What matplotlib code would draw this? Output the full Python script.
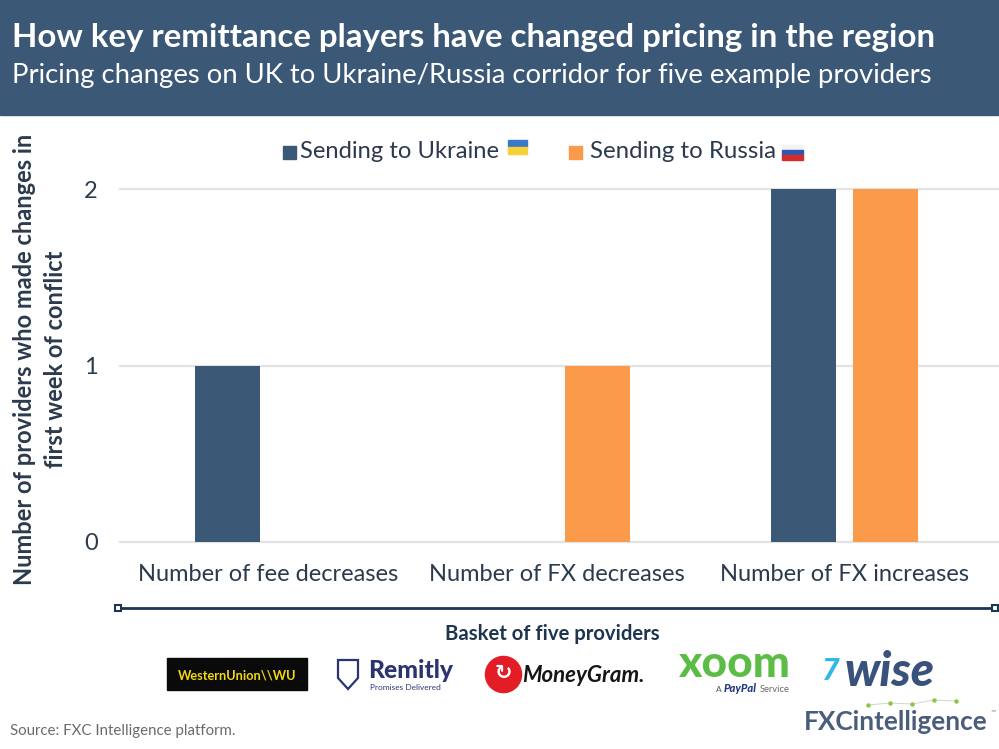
import matplotlib
matplotlib.use('Agg')
import matplotlib.pyplot as plt
from matplotlib.patches import Rectangle, Polygon
from matplotlib.lines import Line2D

# ---------------- data ----------------
categories = ["Number of fee decreases", "Number of FX decreases", "Number of FX increases"]
ukraine = [1, 0, 2]
russia = [0, 1, 2]
series_names = ["Sending to Ukraine", "Sending to Russia"]
yticks = [0, 1, 2]
title = "How key remittance players have changed pricing in the region"
subtitle = "Pricing changes on UK to Ukraine/Russia corridor for five example providers"
ylabel = "Number of providers who made changes in\nfirst week of conflict"
xlabel = "Basket of five providers"
source = "Source: FXC Intelligence platform."

# ---------------- style ----------------
W, H = 999, 749
NAVY = '#3B5877'
ORANGE = '#FA9A4A'
TXT = '#2B3A4C'
DARK = '#1E3550'
plt.rcParams['font.family'] = ['Lato', 'DejaVu Sans']

fig = plt.figure(figsize=(W / 100, H / 100), dpi=100)
renderer = fig.canvas.get_renderer()


def fx(x):
    return x / W


def fy(y):
    return 1 - y / H


def fit(t, width, vertical=False):
    for _ in range(2):
        bb = t.get_window_extent(renderer=renderer)
        cur = bb.height if vertical else bb.width
        t.set_fontsize(t.get_fontsize() * width / cur)
    return t


# header band
fig.patches.append(Rectangle((0, fy(115)), 1, 115 / H, transform=fig.transFigure,
                             color=NAVY, zorder=0))
t = fig.text(fx(12), fy(37), title, color='white', weight='bold', va='center', size=24)
fit(t, 923)
t = fig.text(fx(12), fy(75), subtitle, color='white', va='center', size=20)
fit(t, 918)

# ---------------- axes ----------------
ax = fig.add_axes([fx(120), fy(542), fx(999) - fx(120), (542 - 189) / H])
x = list(range(len(categories)))
bw = 0.226
off = 0.142
ax.bar([i - off for i in x], ukraine, bw, color=NAVY, zorder=3)
ax.bar([i + off for i in x], russia, bw, color=ORANGE, zorder=3)
ax.set_xlim(-0.514, 2.535)
ax.set_ylim(0, 2)
ax.set_yticks(yticks)
ax.set_yticklabels([str(v) for v in yticks])
ax.set_xticks(x)
ax.set_xticklabels(categories)
ax.yaxis.grid(True, color='#E3E3E3', lw=1.6)
for gl in ax.get_ygridlines():
    gl.set_clip_on(False)
ax.set_axisbelow(True)
for s in ax.spines.values():
    s.set_visible(False)
ax.tick_params(axis='y', length=0, pad=16, labelsize=17, labelcolor=TXT)
ax.tick_params(axis='x', length=0, pad=16, labelsize=17, labelcolor=TXT)
# fit category label size
fig.canvas.draw()
lab0 = ax.get_xticklabels()[0]
bb = lab0.get_window_extent(renderer=renderer)
cs = 17 * 261 / bb.width
ax.tick_params(axis='x', labelsize=cs)
ax.tick_params(axis='y', labelsize=cs)

# y label
t = fig.text(fx(40), fy(359), ylabel, rotation=90, ha='center', va='center',
             multialignment='center', weight='bold', color=TXT, size=16, linespacing=1.4)
fit(t, 448, vertical=True)

# legend (manual)
fig.patches.append(Rectangle((fx(283), fy(159)), 13 / W, 13 / H, transform=fig.transFigure,
                             color=NAVY))
t = fig.text(fx(300), fy(152), series_names[0], va='center', color=TXT, size=18)
fit(t, 200)
fig.patches.append(Rectangle((fx(569), fy(159)), 13 / W, 13 / H, transform=fig.transFigure,
                             color=ORANGE))
t = fig.text(fx(590), fy(152), series_names[1], va='center', color=TXT, size=18)
fit(t, 186)
# flags
fig.patches.append(Rectangle((fx(508), fy(147)), 19 / W, 7 / H, transform=fig.transFigure,
                             color='#3A78C9'))
fig.patches.append(Rectangle((fx(508), fy(154)), 19 / W, 7 / H, transform=fig.transFigure,
                             color='#F7D038'))
for k, c in enumerate(['#F4F4F4', '#2F56B0', '#D52B2B']):
    fig.patches.append(Rectangle((fx(782), fy(145 + 5 * (k + 1))), 21 / W, 5 / H,
                                 transform=fig.transFigure, color=c))

# bracket
fig.lines.append(Line2D([fx(118), fx(995)], [fy(608), fy(608)], transform=fig.transFigure,
                        color=DARK, lw=2, marker='s', ms=5, mfc='white', mec=DARK, mew=1.5))
t = fig.text(fx(552), fy(634), xlabel, ha='center', va='center', weight='bold', color=DARK,
             size=15)
fit(t, 215)

# ---------------- logos ----------------
# Western Union
fig.patches.append(Rectangle((fx(167), fy(690)), 140 / W, 32 / H, transform=fig.transFigure,
                             color='#0A0A0A'))
t = fig.text(fx(237), fy(675), "WesternUnion\\\\WU", ha='center', va='center',
             color='#F2D80C', weight='bold', size=10)
fit(t, 118)
# Remitly
fig.patches.append(Polygon([(fx(338), fy(660)), (fx(358), fy(660)), (fx(358), fy(678)),
                            (fx(348), fy(689)), (fx(338), fy(678))], closed=True,
                           transform=fig.transFigure, fill=False, ec='#2C3470', lw=1.6))
t = fig.text(fx(368), fy(670), "Remitly", va='center', color='#2C3470', weight='black',
             size=18)
fit(t, 85)
t = fig.text(fx(405), fy(688), "Promises Delivered", ha='center', va='center',
             color='#2C3470', size=6)
fit(t, 70)
# MoneyGram
fig.lines.append(Line2D([fx(503)], [fy(674)], transform=fig.transFigure, marker='o',
                        ms=26, color='#E31D25', mec='#E31D25'))
fig.text(fx(503), fy(673), "\u21bb", ha='center', va='center', color='white',
         weight='bold', size=15, family='DejaVu Sans')
t = fig.text(fx(522), fy(675), "MoneyGram.", va='center', color='#151515',
             style='italic', weight='bold', size=16)
fit(t, 123)
# Xoom
t = fig.text(fx(678), fy(664), "xoom", va='center', color='#5CBD46', weight='black',
             size=26)
fit(t, 112)
fig.text(fx(716), fy(689), "A", va='center', color='#555555', size=6)
t = fig.text(fx(724), fy(689), "PayPal", va='center', color='#253B80', weight='black',
             style='italic', size=9)
fit(t, 33)
t = fig.text(fx(760), fy(689), "Service", va='center', color='#666666', size=6)
fit(t, 30)
# Wise
t = fig.text(fx(822), fy(671), "7", va='center', color='#2FB8E8', weight='black',
             style='italic', size=22)
t = fig.text(fx(845), fy(672), "wise", va='center', color='#38527D', weight='black',
             style='italic', size=28)
fit(t, 90)

# FXC intelligence logo
t = fig.text(fx(804), fy(722), "FXCintelligence", va='center', color='#4A5E7C',
             weight='bold', size=22)
fit(t, 184)
fig.text(fx(991), fy(712), "\u2122", va='center', color='#888888', size=5)
fig.lines.append(Line2D([fx(868), fx(890), fx(912), fx(934), fx(956)],
                        [fy(705), fy(703), fy(704), fy(700), fy(701)],
                        transform=fig.transFigure, color='#CFD6CF', lw=0.7,
                        marker='o', ms=2.2, mfc='#8CC63F', mec='#8CC63F'))

# source
t = fig.text(fx(10), fy(731), source, va='center', color='#6B6B6B', size=11)
fit(t, 226)

fig.savefig('out.png', dpi=100)
